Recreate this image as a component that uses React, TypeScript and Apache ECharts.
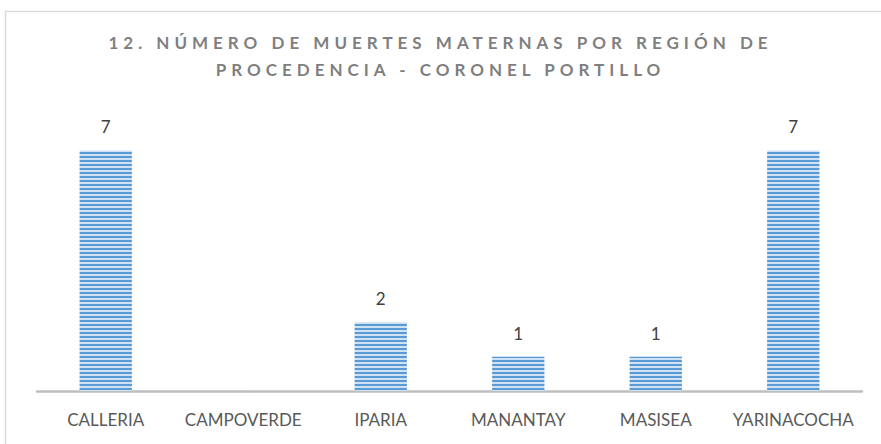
import React, { useEffect, useRef } from 'react';
import * as echarts from 'echarts';

const categories = ['CALLERIA', 'CAMPOVERDE', 'IPARIA', 'MANANTAY', 'MASISEA', 'YARINACOCHA'];
const values: (number | null)[] = [7, null, 2, 1, 1, 7];
const titleLines = ['12. NÚMERO DE MUERTES MATERNAS POR REGIÓN DE', 'PROCEDENCIA - CORONEL PORTILLO'];
const yMax = 8;

export default function App() {
  const ref = useRef<HTMLDivElement>(null);
  useEffect(() => {
    const el = ref.current!;
    const chart = echarts.init(el, null, { renderer: 'svg' });
    const option: any = {
      animation: false,
      backgroundColor: '#ffffff',
      title: {
        text: titleLines.join('\n'),
        left: 'center',
        top: 24,
        textStyle: {
          fontFamily: 'Lato',
          fontWeight: 'bold',
          fontSize: 17,
          color: '#7F7F7F',
          lineHeight: 27,
        },
      },
      graphic: [
        {
          type: 'rect',
          silent: true,
          z: -10,
          shape: { x: 5.5, y: 11.5, width: 1000, height: 1000 },
          style: { fill: 'none', stroke: '#D9D9D9', lineWidth: 1.5 },
        },
      ],
      grid: { left: 37, right: 19, top: 116, bottom: 53, containLabel: false },
      xAxis: {
        type: 'category',
        data: categories,
        axisTick: { show: false },
        axisLine: { lineStyle: { color: '#BFBFBF', width: 2.5 } },
        axisLabel: {
          margin: 20,
          fontFamily: 'Lato',
          fontSize: 17,
          color: '#595959',
          interval: 0,
        },
      },
      yAxis: {
        type: 'value',
        min: 0,
        max: yMax,
        show: false,
        splitLine: { show: false },
      },
      series: [
        {
          type: 'bar',
          data: values,
          barWidth: '38%',
          itemStyle: {
            color: '#CFE1F4',
            decal: {
              symbol: 'rect',
              symbolSize: 1,
              symbolKeepAspect: false,
              color: '#5B9BD5',
              dashArrayX: [10, 0],
              dashArrayY: [2, 2],
              rotation: 0,
            },
          },
          label: {
            show: true,
            position: 'top',
            distance: 15,
            fontFamily: 'Lato',
            fontSize: 17,
            color: '#404040',
            formatter: (p: any) => (p.value == null ? '' : String(p.value)),
          },
        },
      ],
    };
    chart.setOption(option);
    const applySpacing = () => {
      el.querySelectorAll('text').forEach((t) => {
        const s = (t.textContent || '').trim();
        if (titleLines.includes(s)) {
          t.setAttribute('letter-spacing', '5');
        }
      });
    };
    applySpacing();
    chart.on('finished', applySpacing);
    const raf = requestAnimationFrame(applySpacing);
    return () => {
      cancelAnimationFrame(raf);
      chart.dispose();
    };
  }, []);
  return (
    <div
      ref={ref}
      style={{ position: 'fixed', left: 0, top: 0, width: 881, height: 444 }}
    />
  );
}
